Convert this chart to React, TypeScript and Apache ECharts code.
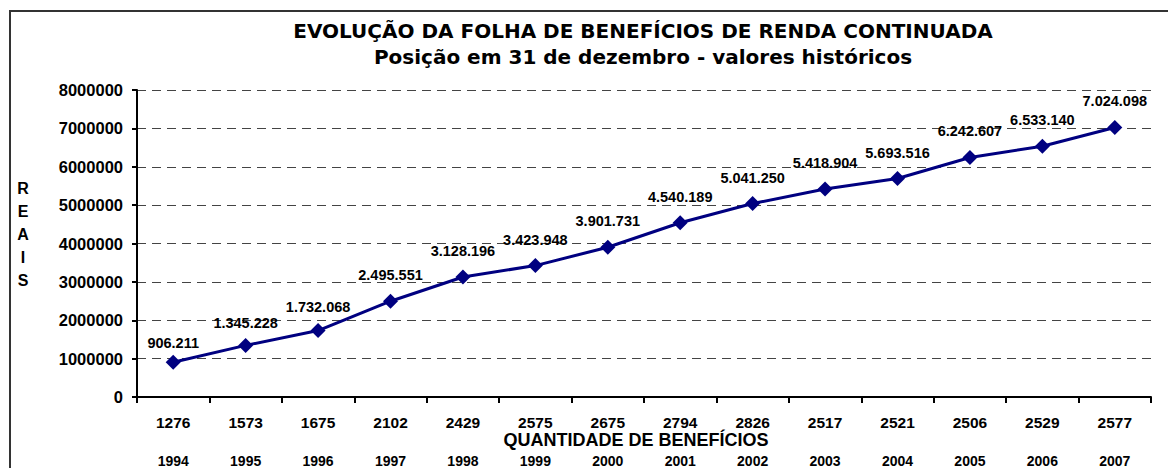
import React, { useEffect, useRef } from "react";
import * as echarts from "echarts";

const titleText = "EVOLUÇÃO DA FOLHA DE BENEFÍCIOS DE RENDA CONTINUADA";
const subtitleText = "Posição em 31 de dezembro - valores históricos";
const xAxisName = "QUANTIDADE DE BENEFÍCIOS";
const yAxisName = "R\nE\nA\nI\nS";

const quantities = ["1276", "1573", "1675", "2102", "2429", "2575", "2675", "2794", "2826", "2517", "2521", "2506", "2529", "2577"];
const years = ["1994", "1995", "1996", "1997", "1998", "1999", "2000", "2001", "2002", "2003", "2004", "2005", "2006", "2007"];
const values = [906211, 1345228, 1732068, 2495551, 3128196, 3423948, 3901731, 4540189, 5041250, 5418904, 5693516, 6242607, 6533140, 7024098];

const yMin = 0;
const yMax = 8000000;
const yInterval = 1000000;

// label spacing above each point (style only)
const labelGaps = [4, 7, 9, 11, 11, 11, 11, 11, 11, 11, 11, 11, 11, 11];

const ARIAL = '"Liberation Sans", Arial, sans-serif';
const DEJAVU = '"DejaVu Sans", sans-serif';

const fmtBR = (v: number) => String(v).replace(/\B(?=(\d{3})+(?!\d))/g, ".");

export default function App() {
  const ref = useRef<HTMLDivElement>(null);

  useEffect(() => {
    if (!ref.current) return;
    const chart = echarts.init(ref.current, null, { renderer: "svg" });
    chart.setOption({
      animation: false,
      backgroundColor: "#ffffff",
      title: [
        {
          text: titleText,
          left: 643,
          top: 21,
          textAlign: "center",
          padding: 0,
          textStyle: { fontFamily: DEJAVU, fontWeight: "bold", fontSize: 20, color: "#000" },
        },
        {
          text: subtitleText,
          left: 643,
          top: 47,
          textAlign: "center",
          padding: 0,
          textStyle: { fontFamily: DEJAVU, fontWeight: "bold", fontSize: 20, color: "#000" },
        },
      ],
      graphic: [
        {
          type: "rect",
          shape: { x: 10, y: 11, width: 1300, height: 600 },
          style: { fill: "none", stroke: "#333", lineWidth: 2 },
          silent: true,
        },
        {
          type: "text",
          x: 23,
          y: 234,
          style: {
            text: yAxisName,
            fontFamily: ARIAL,
            fontWeight: "bold",
            fontSize: 16,
            lineHeight: 23,
            fill: "#000",
            align: "center",
            verticalAlign: "middle",
          },
        },
      ],
      grid: { left: 137, right: 17, top: 90, bottom: 71, containLabel: false, outerBoundsMode: "none" },
      xAxis: {
        type: "category",
        data: quantities,
        boundaryGap: true,
        name: xAxisName,
        nameLocation: "middle",
        nameGap: 34,
        nameMoveOverlap: false,
        nameTextStyle: { fontFamily: ARIAL, fontWeight: "bold", fontSize: 18, color: "#000", padding: [0, 16, 0, 0] },
        axisLine: { show: true, lineStyle: { color: "#000", width: 2 } },
        axisTick: { show: true, length: 6, interval: 0, lineStyle: { color: "#000", width: 2 } },
        axisLabel: {
          interval: 0,
          margin: 16,
          formatter: (value: string, index: number) => `{n|${value}}\n{y|${years[index]}}`,
          rich: {
            n: { fontFamily: ARIAL, fontWeight: "bold", fontSize: 15.5, lineHeight: 18, color: "#000" },
            y: { fontFamily: ARIAL, fontWeight: "bold", fontSize: 14, lineHeight: 60, color: "#000" },
          },
        },
        splitLine: { show: false },
      },
      yAxis: {
        type: "value",
        min: yMin,
        max: yMax,
        interval: yInterval,
        axisLine: { show: true, lineStyle: { color: "#000", width: 2 } },
        axisTick: { show: true, length: 5, lineStyle: { color: "#000", width: 2 } },
        axisLabel: {
          margin: 14,
          formatter: (v: number) => String(v),
          fontFamily: ARIAL,
          fontWeight: "bold",
          fontSize: 16.5,
          color: "#000",
        },
        splitLine: { show: true, lineStyle: { color: "#444", width: 1, type: [9, 6] } },
      },
      series: [
        {
          type: "line",
          data: values.map((v, i) => ({ value: v, label: { distance: labelGaps[i] } })),
          symbol: "diamond",
          symbolSize: [15, 15],
          lineStyle: { color: "#000080", width: 3 },
          itemStyle: { color: "#000080" },
          label: {
            show: true,
            position: "top",
            formatter: (p: any) => fmtBR(p.value),
            fontFamily: ARIAL,
            fontWeight: "bold",
            fontSize: 14.5,
            color: "#000",
          },
        },
      ],
    });
    return () => chart.dispose();
  }, []);

  return (
    <div
      ref={ref}
      style={{ position: "fixed", left: 0, top: 0, width: 1168, height: 468, background: "#fff" }}
    />
  );
}
